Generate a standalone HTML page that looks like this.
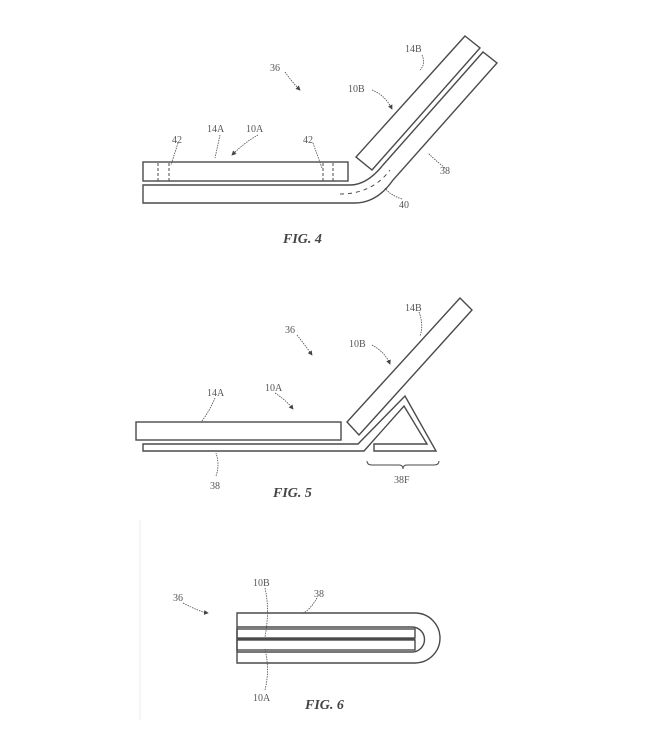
<!DOCTYPE html>
<html><head><style>
html,body{margin:0;padding:0;background:#fff;}
svg{display:block;}
text{font-family:"Liberation Serif",serif;fill:#555;font-size:10px;}
.fig{font-weight:bold;font-style:italic;font-size:14px;fill:#444;}
</style></head><body>
<svg width="652" height="747" viewBox="0 0 652 747" xmlns="http://www.w3.org/2000/svg">
<defs><marker id="ah" markerWidth="6" markerHeight="6" refX="5" refY="3" orient="auto"><path d="M0,0 L6,3 L0,6 z" fill="#444"/></marker></defs>
<g fill="none" stroke="#4a4a4a" stroke-width="1.4">
<!-- FIG 4 -->
<rect x="143" y="162" width="205" height="19"/>
<g stroke-dasharray="3,2" stroke-width="1"><line x1="158" y1="163" x2="158" y2="181"/><line x1="169" y1="163" x2="169" y2="181"/><line x1="323" y1="163" x2="323" y2="181"/><line x1="333" y1="163" x2="333" y2="181"/></g>
<path d="M143,185 L350,185 Q367,185 383,165 L483,52 L497,63 L393,180 Q377,203 355,203 L143,203 Z"/>
<polygon points="465,36 480,48 372,170 356,157"/>
<path d="M340,194 Q372,194 390,170" stroke-dasharray="4,4" stroke-width="1"/>
<g stroke-width="0.8" stroke-dasharray="1.5,1">
<path d="M285,72 Q292,82 300,90" marker-end="url(#ah)"/>
<path d="M422,55 Q426,64 420,70"/>
<path d="M372,90 Q385,95 392,109" marker-end="url(#ah)"/>
<path d="M220,135 L215,158"/>
<path d="M258,135 Q245,142 232,155" marker-end="url(#ah)"/>
<path d="M178,143 L171,165"/><path d="M313,143 L322,168"/>
<path d="M445,168 Q435,160 428,153"/>
<path d="M402,199 Q390,195 385,188"/>
<path d="M297,335 Q305,345 312,355" marker-end="url(#ah)"/>
<path d="M419,312 Q424,325 420,336"/>
<path d="M372,345 Q385,352 390,364" marker-end="url(#ah)"/>
<path d="M215,398 Q210,410 202,421"/>
<path d="M275,393 Q286,400 293,409" marker-end="url(#ah)"/>
<path d="M216,476 Q220,465 216,453"/>
<path d="M183,603 Q200,612 208,613" marker-end="url(#ah)"/>
<path d="M265,588 Q270,610 265,637"/>
<path d="M317,598 Q310,610 302,614"/>
<path d="M265,690 Q270,670 265,649"/>
</g>
<!-- FIG 5 -->
<rect x="136" y="422" width="205" height="18"/>
<polygon points="460,298 472,310 359,435 347,422"/>
<polygon points="143,444 358,444 405,396 436,451 374,451 374,444 427,444 404,406 364,451 143,451"/>
<path d="M367,461 Q367,465 372,465 L399,465 Q403,465 403,469 Q403,465 407,465 L434,465 Q439,465 439,461" stroke-width="1"/>
<!-- FIG 6 -->
<path d="M237,613 L415,613 A25,25 0 0 1 415,663 L237,663 Z"/>
<path d="M237,627 L412,627 A12.5,12.5 0 0 1 412,652 L237,652"/>
<rect x="237" y="629" width="178" height="9"/>
<rect x="237" y="640" width="178" height="10"/>
<line x1="237" y1="639" x2="415" y2="639" stroke-width="2.2"/>
</g>
<line x1="140" y1="520" x2="140" y2="720" stroke="#eee" stroke-width="1"/>
<text x="270" y="71">36</text>
<text x="405" y="52">14B</text>
<text x="348" y="92">10B</text>
<text x="207" y="132">14A</text>
<text x="246" y="132">10A</text>
<text x="172" y="143">42</text>
<text x="303" y="143">42</text>
<text x="440" y="174">38</text>
<text x="399" y="208">40</text>
<text class="fig" x="283" y="243">FIG. 4</text>
<text x="285" y="333">36</text>
<text x="405" y="311">14B</text>
<text x="349" y="347">10B</text>
<text x="207" y="396">14A</text>
<text x="265" y="391">10A</text>
<text x="210" y="489">38</text>
<text x="394" y="483">38F</text>
<text class="fig" x="273" y="497">FIG. 5</text>
<text x="173" y="601">36</text>
<text x="253" y="586">10B</text>
<text x="314" y="597">38</text>
<text x="253" y="701">10A</text>
<text class="fig" x="305" y="709">FIG. 6</text>
</svg>
</body></html>
